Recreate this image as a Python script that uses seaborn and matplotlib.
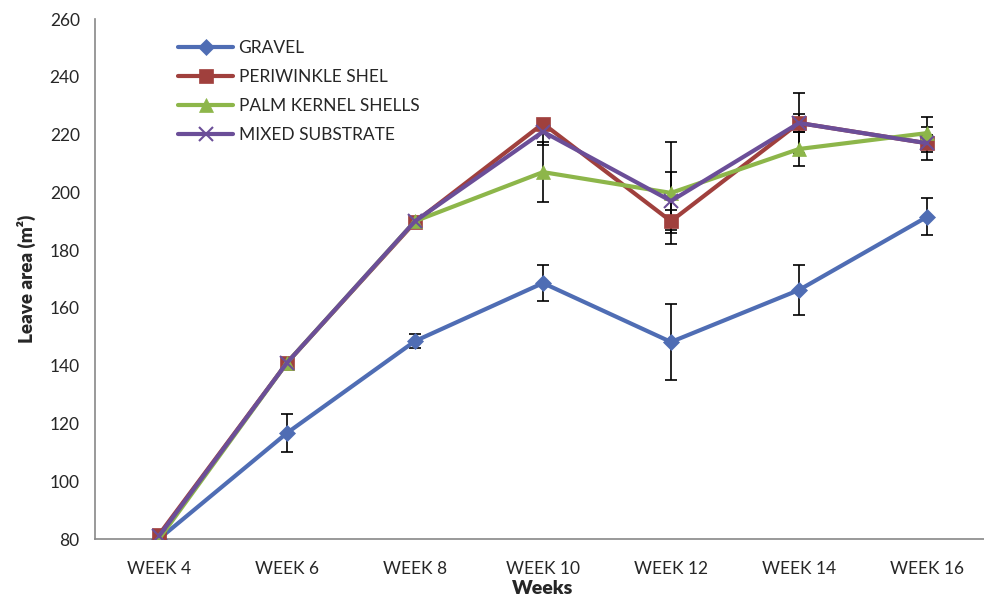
import numpy as np
import pandas as pd
import matplotlib
matplotlib.use("Agg")
import matplotlib.pyplot as plt
import seaborn as sns

weeks = ["WEEK 4", "WEEK 6", "WEEK 8", "WEEK 10", "WEEK 12", "WEEK 14", "WEEK 16"]
gravel = [80.0, 116.7, 148.5, 168.6, 148.2, 166.2, 191.5]
gravel_err = [0.0, 6.5, 2.5, 6.3, 13.3, 8.5, 6.4]
periwinkle = [81.5, 141.0, 189.7, 223.8, 190.0, 224.0, 217.0]
periwinkle_err = [0.0, 0.5, 1.0, 1.5, 4.0, 10.5, 5.7]
palm = [80.0, 141.0, 190.0, 207.0, 199.8, 215.0, 220.5]
palm_err = [0.0, 0.5, 1.0, 10.4, 17.6, 6.0, 5.5]
mixed = [81.0, 141.0, 190.0, 221.0, 197.0, 224.0, 217.0]
mixed_err = [0.0, 0.5, 1.0, 4.5, 10.0, 3.0, 3.0]

series_names = ["GRAVEL", "PERIWINKLE SHEL", "PALM KERNEL SHELLS", "MIXED SUBSTRATE"]
values = [gravel, periwinkle, palm, mixed]
errors = [gravel_err, periwinkle_err, palm_err, mixed_err]
colors = ["#4F6DB4", "#A0403D", "#8DB64A", "#6B4E98"]
markers = ["D", "s", "^", "x"]
msizes = [8, 10, 10, 10]

sns.set_style("white")
plt.rcParams["font.family"] = ["Lato", "DejaVu Sans"]

fig = plt.figure(figsize=(9.84, 5.98), dpi=100)
ax = fig.add_axes([95 / 984, 59 / 598, 896 / 984, 520 / 598])

xpos = np.arange(len(weeks))
for name, vals, errs, c, m, ms in zip(series_names, values, errors, colors, markers, msizes):
    df = pd.DataFrame({"x": xpos, "y": vals})
    ax.errorbar(df["x"], df["y"], yerr=errs, fmt="none", ecolor="black",
                elinewidth=1.2, capsize=4, capthick=1.2, zorder=2)
    sns.lineplot(data=df, x="x", y="y", ax=ax, color=c, linewidth=3,
                 marker=m, markersize=ms, markeredgecolor=c,
                 markeredgewidth=1.5 if m == "x" else 0.5, label=name, zorder=3)

ax.set_xlim(-0.5, 6.5)
ax.set_ylim(80, 260)
ax.set_yticks(np.arange(80, 261, 20))
ax.set_xticks(xpos)
ax.set_xticklabels(weeks)
ax.set_xticks(np.arange(-0.5, 6.6, 1.0), minor=True)
ax.tick_params(axis="x", which="major", length=0, pad=16, labelsize=12.5)
ax.tick_params(axis="x", which="minor", length=5, color="#888888", direction="out")
ax.tick_params(axis="y", length=5, color="#888888", direction="out", labelsize=12.5, pad=6)

for s in ["top", "right"]:
    ax.spines[s].set_visible(False)
for s in ["left", "bottom"]:
    ax.spines[s].set_color("#888888")
    ax.spines[s].set_linewidth(1.2)

ax.set_xlabel("Weeks", fontsize=14, fontweight="heavy", labelpad=2)
ax.set_ylabel("Leave area (m²)", fontsize=13.5, fontweight="heavy", labelpad=10)

leg = ax.legend(loc="upper left", bbox_to_anchor=(0.075, 0.99), frameon=False,
                fontsize=12.5, handlelength=3.2, labelspacing=0.75, handletextpad=0.3)

fig.savefig("out.png", dpi=100)
